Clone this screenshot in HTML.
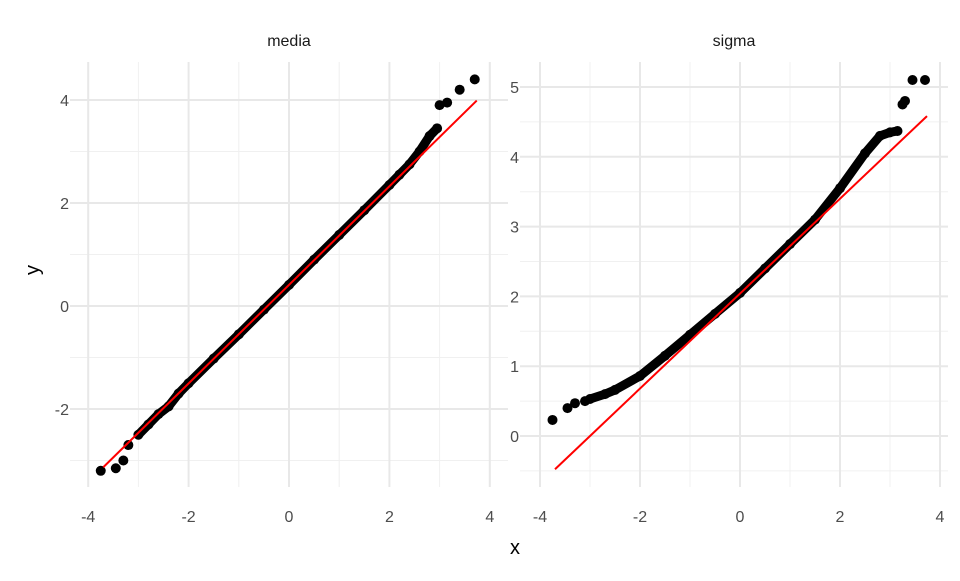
<!DOCTYPE html>
<html><head><meta charset="utf-8"><style>
body{margin:0;background:#fff;}
text{font-family:"Liberation Sans",sans-serif;}
</style></head><body>
<svg id="chart" width="960" height="576" xmlns="http://www.w3.org/2000/svg"></svg>
<script>
// media panel data
const mediaX=[-3.75,-3.45,-3.3,-3.2,-3.0,-2.8,-2.6,-2.4,-2.2,-2.0,-1.5,-1.0,-0.5,0,0.5,1.0,1.5,2.0,2.2,2.4,2.6,2.8,2.95,3.0,3.15,3.4,3.7];
const mediaY=[-3.2,-3.15,-3.0,-2.7,-2.5,-2.3,-2.1,-1.95,-1.7,-1.5,-1.02,-0.55,-0.07,0.41,0.9,1.38,1.86,2.35,2.55,2.75,3.0,3.3,3.45,3.9,3.95,4.2,4.4];
// sigma panel data
const sigmaX=[-3.75,-3.45,-3.3,-3.1,-3.0,-2.7,-2.5,-2.0,-1.5,-1.0,-0.5,0,0.5,1.0,1.5,2.0,2.5,2.8,3.0,3.15,3.25,3.3,3.45,3.7];
const sigmaY=[0.23,0.4,0.47,0.5,0.53,0.6,0.66,0.86,1.15,1.45,1.75,2.05,2.4,2.75,3.1,3.55,4.05,4.3,4.35,4.37,4.75,4.8,5.1,5.1];
// reference lines [intercept, slope]
const mediaLine=[0.41,0.957];
const sigmaLine=[2.04,0.68];
const lineRange=[-3.7,3.74];
const xTicks=[-4,-2,0,2,4];
const mediaYTicks=[-2,0,2,4];
const sigmaYTicks=[0,1,2,3,4,5];

const svg=document.getElementById('chart');
const NS='http://www.w3.org/2000/svg';
function mk(t,a,p){const e=document.createElementNS(NS,t);for(const k in a)e.setAttribute(k,a[k]);(p||svg).appendChild(e);return e;}

function panel(name,x0,x1,y0,y1,xs,ys,yTicks,yMinor,X,Y,line,title){
  const g=mk('g',{});
  
  
  const sx=v=>xs[0]+(v-xs[1])*xs[2];
  const sy=v=>ys[0]-(v-ys[1])*ys[2];
  [-3,-1,1,3].forEach(v=>{const l=mk('line',{x1:sx(v),x2:sx(v),y1:y0,y2:y1,stroke:'#f0f0f0','stroke-width':1},g);});
  yMinor.forEach(v=>{const l=mk('line',{x1:x0,x2:x1,y1:sy(v),y2:sy(v),stroke:'#f0f0f0','stroke-width':1},g);});
  xTicks.forEach(v=>{
    const l=mk('line',{x1:sx(v),x2:sx(v),y1:y0,y2:y1,stroke:'#e8e8e8','stroke-width':2},g);
    
    const t=mk('text',{x:sx(v),y:522,'text-anchor':'middle','font-size':16,fill:'#4d4d4d'},g);
    t.textContent=v;
    
  });
  yTicks.forEach(v=>{
    const l=mk('line',{x1:x0,x2:x1,y1:sy(v),y2:sy(v),stroke:'#e8e8e8','stroke-width':2},g);
    
    const t=mk('text',{x:x0-1,y:sy(v)+6,'text-anchor':'end','font-size':16,fill:'#4d4d4d'},g);
    t.textContent=v;
    
  });
  const st=mk('text',{x:(x0+x1)/2,y:46,'text-anchor':'middle','font-size':16,fill:'#1a1a1a'},g);
  st.textContent=title;
  
  const inner=X.map((v,i)=>[v,Y[i]]).filter((p,i)=>i>=4&&i<=X.length-5);
  const pl=mk('polyline',{points:inner.map(p=>sx(p[0])+','+sy(p[1])).join(' '),fill:'none',stroke:'#000','stroke-width':9,'stroke-linecap':'round','stroke-linejoin':'round'},g);
  
  X.forEach((v,i)=>{
    const c=mk('circle',{cx:sx(v),cy:sy(Y[i]),r:5,fill:'#000'},g);
    
  });
  const rl=mk('line',{x1:sx(lineRange[0]),y1:sy(line[0]+line[1]*lineRange[0]),x2:sx(lineRange[1]),y2:sy(line[0]+line[1]*lineRange[1]),stroke:'#ff0000','stroke-width':2},g);
  
}
panel('media',70,508,62,487,[289,0,50.2],[306,0,51.5],mediaYTicks,[-3,-1,1,3],mediaX,mediaY,mediaLine,'media');
panel('sigma',520,948,62,487,[740,0,50],[436,0,69.8],sigmaYTicks,[-0.5,0.5,1.5,2.5,3.5,4.5],sigmaX,sigmaY,sigmaLine,'sigma');
const xt=mk('text',{x:515,y:554,'text-anchor':'middle','font-size':20,fill:'#000'});
xt.textContent='x';

const yt=mk('text',{x:39,y:270,'text-anchor':'middle','font-size':20,fill:'#000',transform:'rotate(-90 39 270)'});
yt.textContent='y';

</script>
</body></html>
